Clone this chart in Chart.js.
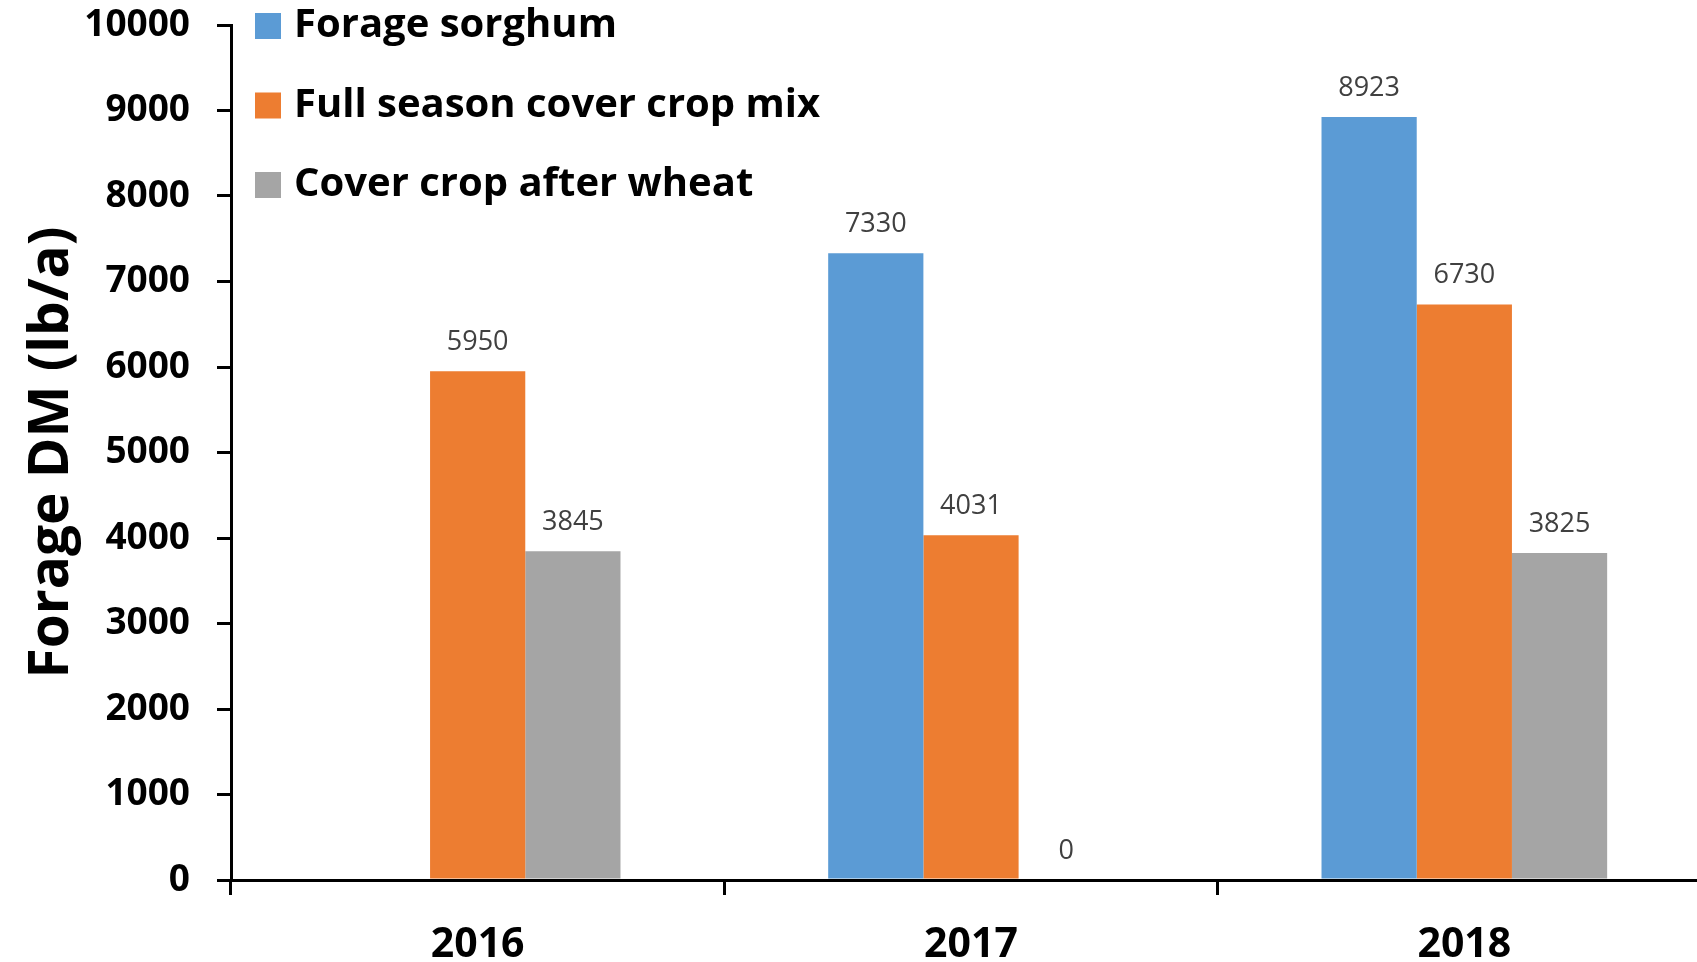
<!DOCTYPE html>
<html>
<head>
<meta charset="utf-8">
<script src="https://cdn.jsdelivr.net/npm/chart.js@4.4.1/dist/chart.umd.min.js"></script>
<style>
  html, body { margin: 0; padding: 0; overflow: hidden; background: #ffffff; }
  #wrap { width: 1720px; height: 962px; position: relative; }
</style>
</head>
<body>
<div id="wrap"><canvas id="c" width="1720" height="962"></canvas></div>
<script>
const categories = ['2016', '2017', '2018'];
const seriesNames = ['Forage sorghum', 'Full season cover crop mix', 'Cover crop after wheat'];
const forageSorghum = [null, 7330, 8923];
const fullSeasonMix = [5950, 4031, 6730];
const coverAfterWheat = [3845, 0, 3825];
const yTicks = [0, 1000, 2000, 3000, 4000, 5000, 6000, 7000, 8000, 9000, 10000];
const colors = ['#5B9BD5', '#ED7D31', '#A5A5A5'];

const valueLabels = {
  id: 'valueLabels',
  afterDatasetsDraw(chart) {
    const ctx = chart.ctx;
    ctx.save();
    ctx.font = '27px "Open Sans"';
    ctx.fillStyle = '#404040';
    ctx.textAlign = 'center';
    ctx.textBaseline = 'middle';
    chart.data.datasets.forEach((ds, i) => {
      const meta = chart.getDatasetMeta(i);
      meta.data.forEach((el, j) => {
        const v = ds.data[j];
        if (v === null || v === undefined) return;
        ctx.fillText(String(v), el.x, el.y - 29);
      });
    });
    ctx.restore();
  }
};

const sideLegend = {
  id: 'sideLegend',
  afterDraw(chart) {
    const ctx = chart.ctx;
    ctx.save();
    ctx.font = 'bold 40px "Open Sans"';
    ctx.textAlign = 'left';
    ctx.textBaseline = 'middle';
    chart.data.datasets.forEach((ds, i) => {
      const cy = 26 + i * 79.5;
      ctx.fillStyle = ds.backgroundColor;
      ctx.fillRect(255, cy - 13, 26, 26);
      ctx.fillStyle = '#000000';
      ctx.fillText(ds.label, 294, cy);
    });
    ctx.restore();
  }
};

new Chart(document.getElementById('c'), {
  type: 'bar',
  data: {
    labels: categories,
    datasets: [
      { label: seriesNames[0], data: forageSorghum, backgroundColor: colors[0] },
      { label: seriesNames[1], data: fullSeasonMix, backgroundColor: colors[1] },
      { label: seriesNames[2], data: coverAfterWheat, backgroundColor: colors[2] }
    ]
  },
  options: {
    responsive: false,
    animation: false,
    devicePixelRatio: 1,
    layout: { padding: { top: 25, right: 9, left: 0, bottom: 0 } },
    datasets: { bar: { categoryPercentage: 0.579, barPercentage: 1.0 } },
    plugins: { legend: { display: false }, tooltip: { enabled: false } },
    scales: {
      x: {
        grid: { display: true, drawOnChartArea: false, drawTicks: true, tickLength: 15, color: '#000000', lineWidth: 3, offset: true },
        border: { display: true, color: '#000000', width: 3 },
        ticks: { color: '#000000', font: { family: 'Open Sans', weight: 'bold', size: 41 }, padding: 26, maxRotation: 0 },
        afterFit(scale) { scale.height = 82; }
      },
      y: {
        min: 0,
        max: 10000,
        afterBuildTicks(scale) { scale.ticks = yTicks.map(v => ({ value: v })); },
        grid: { display: true, drawOnChartArea: false, drawTicks: true, tickLength: 14, color: '#000000', lineWidth: 3 },
        border: { display: true, color: '#000000', width: 3 },
        ticks: { color: '#000000', font: { family: 'Open Sans', weight: 'bold', size: 37 }, padding: 27, callback: (v) => String(v) },
        title: { display: true, text: 'Forage DM (lb/a)', color: '#000000', font: { family: 'Open Sans', weight: 'bold', size: 55 }, padding: { top: 19, bottom: 0 } },
        afterFit(scale) { scale.width = 231; scale.paddingTop = 0; scale.paddingBottom = 0; }
      }
    }
  },
  plugins: [valueLabels, sideLegend]
});
</script>
</body>
</html>
